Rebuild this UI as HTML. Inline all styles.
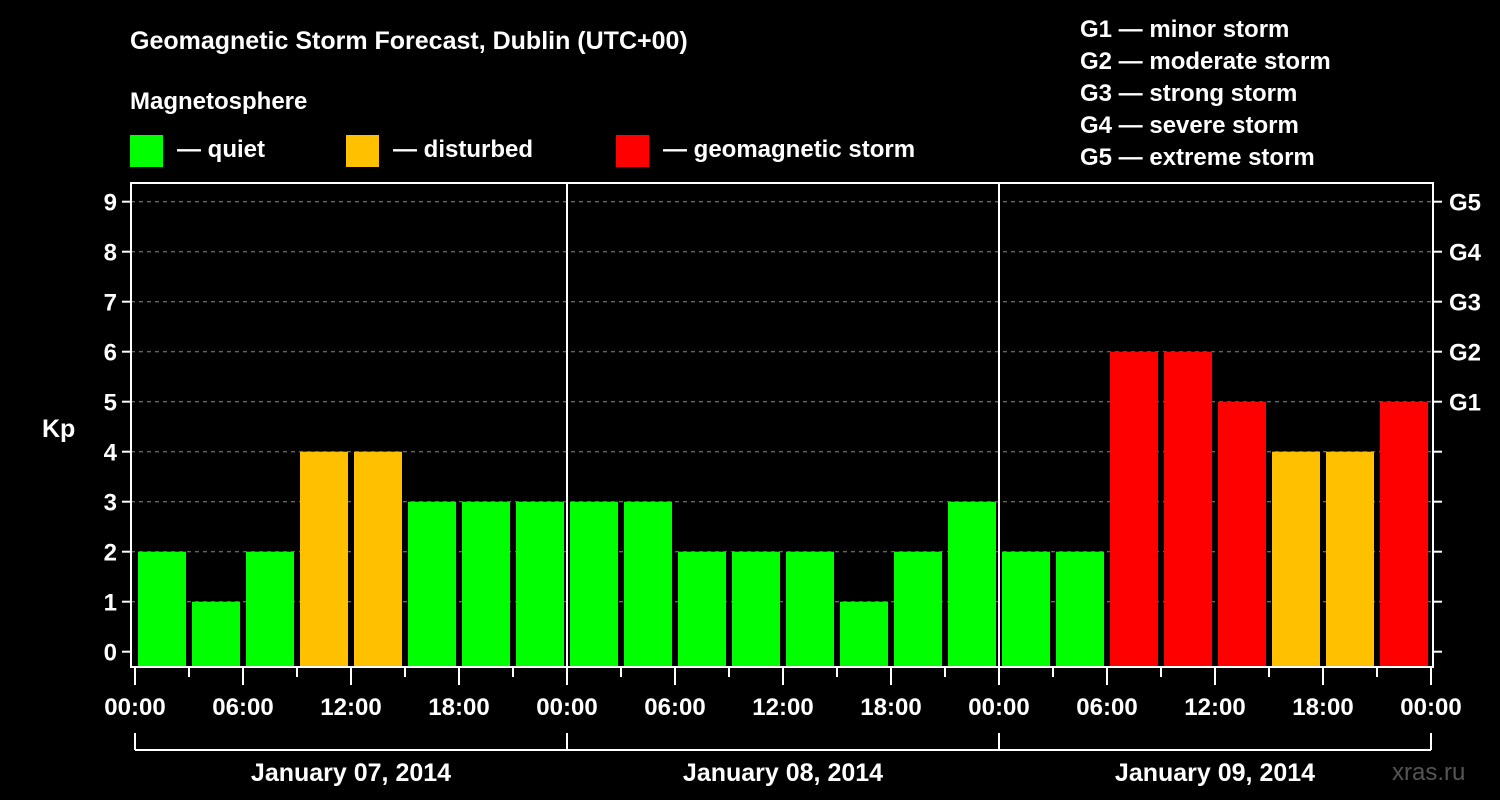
<!DOCTYPE html>
<html><head><meta charset="utf-8">
<style>
html,body{margin:0;padding:0;background:#000;}
svg{display:block;font-family:"Liberation Sans",sans-serif;font-weight:bold;}
</style></head>
<body>
<svg id="chart" width="1500" height="800" viewBox="0 0 1500 800">
<rect width="1500" height="800" fill="#000"/>
<text x="130" y="49" fill="#fff" font-size="25">Geomagnetic Storm Forecast, Dublin (UTC+00)</text>
<text x="130" y="109" fill="#fff" font-size="24">Magnetosphere</text>
<g><rect x="130" y="135" width="33" height="32" fill="#00ff00"/><text x="177" y="157" fill="#fff" font-size="24">— quiet</text></g>
<g><rect x="346" y="135" width="33" height="32" fill="#ffc000"/><text x="393" y="157" fill="#fff" font-size="24">— disturbed</text></g>
<g><rect x="616" y="135" width="33" height="32" fill="#ff0000"/><text x="663" y="157" fill="#fff" font-size="24">— geomagnetic storm</text></g>
<g fill="#fff" font-size="24">
<text x="1080" y="37">G1 — minor storm</text>
<text x="1080" y="69">G2 — moderate storm</text>
<text x="1080" y="101">G3 — strong storm</text>
<text x="1080" y="133">G4 — severe storm</text>
<text x="1080" y="165">G5 — extreme storm</text>
</g>
<text x="42" y="437" fill="#fff" font-size="25">Kp</text>
<text x="1392" y="780" fill="#555" font-size="24" font-weight="normal">xras.ru</text>
<g id="plot"></g>
</svg>
<script>
const kpValues = [2,1,2,4,4,3,3,3, 3,3,2,2,2,1,2,3, 2,2,6,6,5,4,4,5];
const yTicks = [0,1,2,3,4,5,6,7,8,9];
const gLabels = ["G1","G2","G3","G4","G5"];
const gLevels = [5,6,7,8,9];
const xTickLabels = ["00:00","06:00","12:00","18:00","00:00","06:00","12:00","18:00","00:00","06:00","12:00","18:00","00:00"];
const dayLabels = ["January 07, 2014","January 08, 2014","January 09, 2014"];

const NS="http://www.w3.org/2000/svg";
const L=131,R=1433,T=183,B=667,X0=135,slot=54;
const y=v=>651.7-50*v;
const x=i=>X0+slot*i; // i in 3h slots
const g=document.getElementById('plot');
function mk(tag,attrs,parent){const e=document.createElementNS(NS,tag);for(const k in attrs)e.setAttribute(k,attrs[k]);(parent||g).appendChild(e);return e;}
function color(v){return v>=5?"#ff0000":(v>=4?"#ffc000":"#00ff00");}

yTicks.forEach(v=>{
  if(v>0){const l=mk('line',{x1:L,x2:R,y1:y(v),y2:y(v),stroke:'#888','stroke-dasharray':'4,4','stroke-width':1});
  
  }
  const t=mk('line',{x1:L-9,x2:L,y1:y(v),y2:y(v),stroke:'#fff','stroke-width':2});
  
  
  const t2=mk('line',{x1:R,x2:R+9,y1:y(v),y2:y(v),stroke:'#fff','stroke-width':2});
  
  
  const tx=mk('text',{x:L-14,y:y(v)+9,fill:'#fff','font-size':24,'text-anchor':'end'});
  tx.textContent=v;
  
  
});
gLabels.forEach((lab,i)=>{
  const tx=mk('text',{x:R+16,y:y(gLevels[i])+9,fill:'#fff','font-size':24});
  tx.textContent=lab;
  
  
});
kpValues.forEach((v,i)=>{
  const r=mk('rect',{x:x(i)+3,y:y(v),width:48,height:B-y(v),fill:color(v)});
  
  
});
[1,2].forEach(d=>{
  const l=mk('line',{x1:x(d*8),x2:x(d*8),y1:T,y2:B,stroke:'#fff','stroke-width':2});
  
  
});
const fr=mk('rect',{x:L,y:T,width:R-L,height:B-T,fill:'none',stroke:'#fff','stroke-width':2});


for(let i=0;i<=24;i++){
  const major=i%2==0;
  const t=mk('line',{x1:x(i),x2:x(i),y1:B,y2:B+(major?18:10),stroke:'#fff','stroke-width':2});
  
  
}
xTickLabels.forEach((lab,i)=>{
  const tx=mk('text',{x:x(i*2),y:715,fill:'#fff','font-size':24,'text-anchor':'middle'});
  tx.textContent=lab;
  
  
});
const br=mk('line',{x1:x(0),x2:x(24),y1:750,y2:750,stroke:'#fff','stroke-width':2});


for(let d=0;d<=3;d++){
  const v=mk('line',{x1:x(d*8),x2:x(d*8),y1:733,y2:750,stroke:'#fff','stroke-width':2});
  
  
}
dayLabels.forEach((lab,d)=>{
  const tx=mk('text',{x:x(d*8+4),y:781,fill:'#fff','font-size':25,'text-anchor':'middle'});
  tx.textContent=lab;
  
  
});
</script>
</body></html>
